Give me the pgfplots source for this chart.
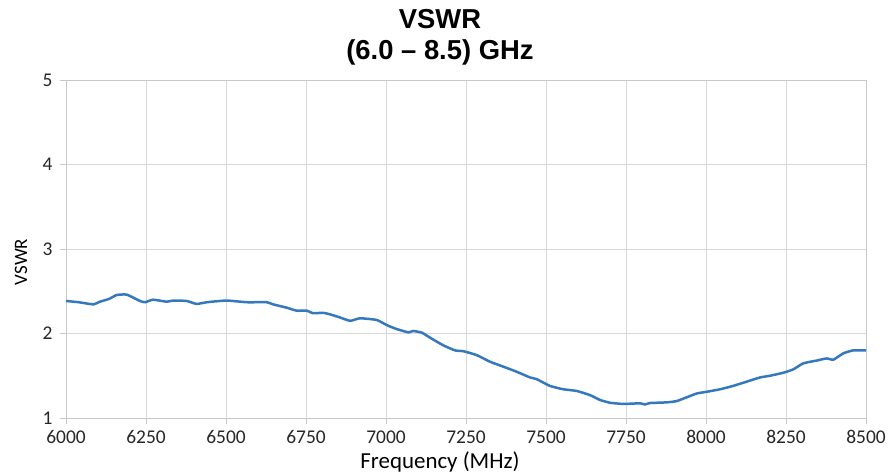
\documentclass[border=0pt]{standalone}
\usepackage{pgfplots}
\pgfplotsset{compat=1.18}
\usepackage{fontspec}
\setmainfont{Carlito}
\newfontfamily\arialfont[Ligatures=TeX]{Liberation Sans}
\definecolor{vblue}{RGB}{52,120,190}
\definecolor{gridgray}{RGB}{217,217,217}
\definecolor{axgray}{RGB}{200,200,200}
\begin{document}
\begin{tikzpicture}
\path[use as bounding box] (-66bp,-58bp) rectangle (826bp,418bp);
\begin{axis}[
  at={(0,0)}, anchor=south west,
  scale only axis, width=800bp, height=338bp,
  xmin=6000, xmax=8500, ymin=1, ymax=5,
  xtick={6000,6250,...,8500}, ytick={1,2,3,4,5},
  /pgf/number format/assume math mode=true,
  /pgf/number format/set thousands separator={},
  xmajorgrids, ymajorgrids,
  grid style={gridgray, line width=0.8bp},
  axis line style={axgray, line width=0.8bp},
  tick style={axgray, line width=0.8bp},
  tick align=outside, major tick length=6bp,
  xtick pos=bottom, ytick pos=left,
  tick label style={font=\fontsize{19.5}{19.5}\selectfont, text=black!85},
  yticklabel style={xshift=-4bp},
  xticklabel style={yshift=-3bp},
  clip=false,
]
\addplot[vblue, line width=2.5bp, smooth, tension=0.3] coordinates {
(6000,2.385) (6040,2.37) (6085,2.345) (6106,2.376) (6135,2.41) (6158,2.455)
(6190,2.46) (6231,2.385) (6247,2.37) (6272,2.40) (6315,2.376) (6334,2.39)
(6377,2.385) (6408,2.35) (6440,2.37) (6502,2.39) (6565,2.37) (6627,2.37)
(6647,2.345) (6690,2.305) (6721,2.27) (6752,2.27) (6772,2.24) (6803,2.245)
(6825,2.227) (6856,2.19) (6888,2.15) (6919,2.18) (6971,2.16) (7002,2.10)
(7033,2.053) (7070,2.014) (7085,2.03) (7112,2.01) (7138,1.95) (7179,1.86)
(7216,1.80) (7242,1.79) (7283,1.745) (7325,1.666) (7367,1.607) (7408,1.548)
(7450,1.48) (7471,1.46) (7512,1.38) (7554,1.34) (7596,1.32) (7638,1.27)
(7669,1.213) (7690,1.19) (7700,1.18) (7742,1.166) (7794,1.174) (7809,1.16)
(7825,1.177) (7877,1.185) (7908,1.20) (7940,1.245) (7971,1.29) (8002,1.31)
(8044,1.34) (8085,1.38) (8127,1.43) (8169,1.48) (8200,1.50) (8242,1.536)
(8273,1.576) (8304,1.647) (8346,1.68) (8377,1.705) (8398,1.69) (8429,1.765)
(8460,1.80) (8500,1.80)
};
\end{axis}
\node[anchor=base, font=\arialfont\bfseries\fontsize{27.5}{27.5}\selectfont] at (374bp,389bp) {VSWR};
\node[anchor=base, font=\arialfont\bfseries\fontsize{27.5}{27.5}\selectfont] at (374bp,358bp) {(6.0 – 8.5) GHz};
\node[anchor=base, font=\fontsize{23}{23}\selectfont] at (374bp,-50bp) {Frequency (MHz)};
\node[anchor=base, rotate=90, font=\fontsize{19}{19}\selectfont] at (-39bp,156bp) {VSWR};
\end{tikzpicture}
\end{document}
